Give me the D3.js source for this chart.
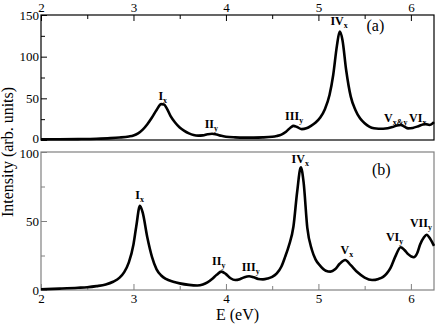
<!DOCTYPE html>
<html>
<head>
<meta charset="utf-8">
<script src="https://cdn.jsdelivr.net/npm/d3@7"></script>
<style>
  body { margin: 0; background: #fff; }
  svg { font-family: "Liberation Serif", "Times New Roman", serif; }
  .lbl { font-weight: bold; font-size: 12px; }
</style>
</head>
<body>
<script>
// Energy grid and intensities
var energyA = [2.0, 2.2, 2.4, 2.6, 2.75, 2.85, 2.95, 3.0, 3.05, 3.1, 3.15, 3.2, 3.25, 3.3, 3.33, 3.36, 3.4, 3.45, 3.5, 3.55,
  3.6, 3.65, 3.7, 3.75, 3.8, 3.85, 3.9, 3.95, 4.0, 4.1, 4.2, 4.3, 4.4, 4.5, 4.55, 4.6, 4.65, 4.7, 4.73, 4.77,
  4.82, 4.87, 4.92, 4.97, 5.02, 5.07, 5.12, 5.16, 5.2, 5.23, 5.26, 5.3, 5.35, 5.4, 5.45, 5.5, 5.55, 5.6, 5.65, 5.7,
  5.75, 5.8, 5.85, 5.89, 5.93, 5.97, 6.02, 6.08, 6.13, 6.16, 6.2, 6.25];
var intensityA = [0.8, 0.9, 1.1, 1.5, 2.2, 3, 4.3, 5.5, 8, 12.5, 19, 27, 36, 43, 42.5, 38, 29, 21, 15, 11,
  8, 6, 5.3, 5.5, 6.8, 7.5, 6.5, 5, 4, 3.2, 2.9, 2.9, 3.1, 3.8, 4.8, 6.5, 10, 15, 17, 15.5,
  13, 14, 17, 21, 27, 37, 54, 78, 113, 130, 120, 84, 52, 36, 26, 20, 16, 14, 13.5, 13.5,
  14, 15.5, 17.5, 18, 16, 14, 14.5, 16.5, 18.5, 19, 18, 21.5];

var energyB = [2.0, 2.2, 2.4, 2.5, 2.6, 2.7, 2.78, 2.85, 2.9, 2.95, 3.0, 3.03, 3.07, 3.1, 3.15, 3.2, 3.25, 3.3, 3.35, 3.43,
  3.5, 3.6, 3.69, 3.75, 3.8, 3.85, 3.9, 3.95, 4.0, 4.05, 4.1, 4.15, 4.2, 4.25, 4.3, 4.35, 4.4, 4.45, 4.5, 4.55,
  4.6, 4.64, 4.68, 4.73, 4.77, 4.81, 4.84, 4.88, 4.93, 4.97, 5.02, 5.08, 5.13, 5.18, 5.23, 5.29, 5.35, 5.42, 5.5, 5.58,
  5.65, 5.7, 5.74, 5.78, 5.83, 5.89, 5.93, 5.97, 6.03, 6.07, 6.1, 6.14, 6.17, 6.21, 6.25];
var intensityB = [0.5, 1, 1.6, 2, 2.8, 4, 6, 9, 13, 20, 33, 46, 61, 56, 38, 24, 15, 10.5, 8, 6,
  4.8, 3.7, 3.3, 4, 5.5, 8, 11, 13.3, 11.5, 8.5, 7.2, 7.8, 9.3, 10, 9.2, 8, 7.7, 8.3, 9.5, 12,
  17, 24, 32, 46, 71, 89, 78, 45, 29, 22, 17.5, 14, 13.3, 15, 19, 21.7, 18, 13, 9, 7.2,
  8, 9.5, 12, 16, 24, 31, 29, 26, 23.7, 27, 33, 38, 40, 37, 32];

var xTicks = [2, 3, 4, 5, 6];
var yTicksA = [0, 50, 100, 150];
var yTicksB = [0, 50, 100];

// peak labels: name, subscript, energy, intensity at label baseline
var labelsA = [["I", "x", 3.27, 48], ["II", "y", 3.77, 14.4], ["III", "y", 4.64, 24],
  ["IV", "x", 5.13, 138], ["V", "x&y", 5.71, 21.6], ["VI", "x", 5.98, 21.6]];
var labelsB = [["I", "x", 3.02, 66], ["II", "y", 3.85, 18], ["III", "y", 4.17, 14],
  ["IV", "x", 4.71, 92], ["V", "x", 5.24, 26], ["VI", "y", 5.73, 35.7], ["VII", "y", 5.99, 45.4]];

var svgWidth = 436, svgHeight = 324;
var left = 41, right = 434;

var svg = d3.select("body").append("svg")
  .attr("width", svgWidth)
  .attr("height", svgHeight);

var x = d3.scaleLinear().domain([2, 6.25]).range([left, right]);

function drawPanel(opts) {
  var y = d3.scaleLinear().domain(opts.yDomain).range([opts.bottom, opts.top]);
  var g = svg.append("g");
  var col = opts.frame;

  // x axis (major + minor), on one side only
  var xMajor = (opts.xSide === "top" ? d3.axisTop(x) : d3.axisBottom(x))
    .tickValues(xTicks).tickSize(-6).tickPadding(opts.xSide === "top" ? 3 : 4).tickFormat(d3.format("d"));
  var xMinor = (opts.xSide === "top" ? d3.axisTop(x) : d3.axisBottom(x))
    .tickValues([2.5, 3.5, 4.5, 5.5]).tickSize(-4).tickFormat("");
  var yPos = opts.xSide === "top" ? opts.top : opts.bottom;
  g.append("g").attr("transform", "translate(0," + yPos + ")").call(xMajor);
  g.append("g").attr("transform", "translate(0," + yPos + ")").call(xMinor);

  var yMajor = d3.axisLeft(y).tickValues(opts.yTicks).tickSize(-6).tickPadding(2);
  var yMinor = d3.axisLeft(y).tickValues(opts.yMinor).tickSize(-4).tickFormat("");
  var ya = g.append("g").attr("transform", "translate(" + left + ",0)").call(yMajor);
  g.append("g").attr("transform", "translate(" + left + ",0)").call(yMinor);
  // nudge the label at the panel edge that meets the other panel
  ya.selectAll(".tick text")
    .filter(function(d) { return d === opts.edgeTick; })
    .attr("transform", "translate(0," + opts.edgeShift + ")");

  g.selectAll(".domain").remove();
  g.selectAll(".tick line").attr("stroke", col).attr("stroke-width", 1);
  g.selectAll(".tick text").attr("font-size", 13).attr("fill", "#000")
    .attr("font-family", "Liberation Serif, serif");

  g.append("rect")
    .attr("x", left).attr("y", opts.top)
    .attr("width", right - left).attr("height", opts.bottom - opts.top)
    .attr("fill", "none").attr("stroke", col).attr("stroke-width", 1.2);

  var pts = opts.e.map(function(d, i) { return [d, opts.v[i]]; });
  var line = d3.line()
    .x(function(d) { return x(d[0]); })
    .y(function(d) { return y(d[1]); })
    .curve(d3.curveMonotoneX);
  g.append("path").datum(pts)
    .attr("d", line)
    .attr("fill", "none")
    .attr("stroke", "#000")
    .attr("stroke-width", 2.6)
    .attr("stroke-linejoin", "round");

  opts.labels.forEach(function(l) {
    var t = g.append("text").attr("class", "lbl")
      .attr("x", x(l[2])).attr("y", y(l[3]));
    t.append("tspan").text(l[0]);
    t.append("tspan").attr("dy", 3).attr("font-size", 8).text(l[1]);
  });

  g.append("text")
    .attr("x", x(opts.tag[0])).attr("y", y(opts.tag[1]))
    .attr("font-size", 16).text(opts.tagText);

  return y;
}

drawPanel({
  top: 15, bottom: 140, yDomain: [0, 150], yTicks: yTicksA, yMinor: [25, 75, 125],
  xSide: "top", frame: "#000", e: energyA, v: intensityA, labels: labelsA,
  tag: [5.52, 131], tagText: "(a)", edgeTick: 0, edgeShift: -1.5
});

drawPanel({
  top: 152, bottom: 290, yDomain: [0, 100], yTicks: yTicksB, yMinor: [25, 75],
  xSide: "bottom", frame: "#808080", e: energyB, v: intensityB, labels: labelsB,
  tag: [5.58, 83], tagText: "(b)", edgeTick: 100, edgeShift: 1.5
});

svg.append("text")
  .attr("x", (left + right) / 2).attr("y", 320)
  .attr("text-anchor", "middle").attr("font-size", 16)
  .text("E (eV)");

svg.append("text")
  .attr("transform", "translate(13,152) rotate(-90)")
  .attr("text-anchor", "middle").attr("font-size", 16)
  .text("Intensity (arb. units)");
</script>
</body>
</html>
